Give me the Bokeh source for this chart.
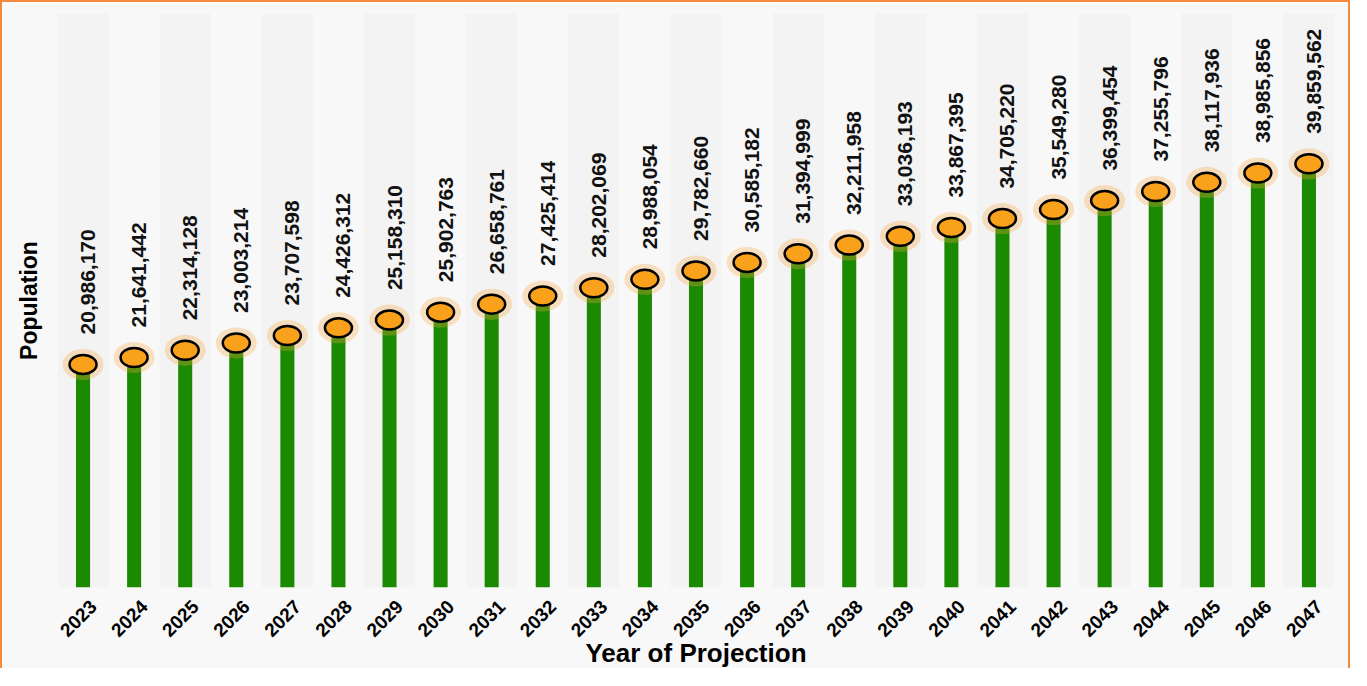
import math
from bokeh.plotting import figure
from bokeh.models import Range1d, LinearAxis, FixedTicker
from bokeh.core.properties import value
from bokeh.embed import file_html
from bokeh.resources import INLINE

years = [2023, 2024, 2025, 2026, 2027, 2028, 2029, 2030, 2031, 2032, 2033, 2034,
         2035, 2036, 2037, 2038, 2039, 2040, 2041, 2042, 2043, 2044, 2045, 2046, 2047]
population = [20986170, 21641442, 22314128, 23003214, 23707598, 24426312, 25158310,
              25902763, 26658761, 27425414, 28202069, 28988054, 29782660, 30585182,
              31394999, 32211958, 33036193, 33867395, 34705220, 35549280, 36399454,
              37255796, 38117936, 38985856, 39859562]
value_labels = [f"{v:,}" for v in population]
tick_labels = {y: str(y) for y in years}

FONT = "Liberation Sans"
BG = "#f8f8f8"

p = figure(width=1350, height=668, output_backend="svg", toolbar_location=None,
           x_range=Range1d(years[0] - 0.5, years[-1] + 0.5),
           y_range=Range1d(0, 54000000),
           x_axis_location=None, min_border_left=55, min_border_right=18,
           min_border_top=11, min_border_bottom=83)
p.styles = {"border-top": "2px solid #f4883c", "border-left": "2px solid #f4883c",
            "border-right": "2px solid #f4883c"}
p.background_fill_color = BG
p.border_fill_color = BG
p.outline_line_color = None
p.xgrid.visible = False
p.ygrid.visible = False

# alternating bands
band_years = years[::2]
p.vbar(x=band_years, width=1, top=54000000, bottom=0, fill_color="#f3f3f3", line_color=None)

# stems
p.vbar(x=years, width=0.275, top=population, bottom=0, fill_color="#1b8a00", line_color=None)

# halos and markers
p.ellipse(x=years, y=population, width=41, height=31, width_units="screen", height_units="screen",
          fill_color="#f7a440", fill_alpha=0.3, line_color=None)
p.ellipse(x=years, y=population, width=27, height=19, width_units="screen", height_units="screen",
          fill_color="#f9a11b", line_color="#000000", line_width=2.5)

# value labels
p.text(x=years, y=population, text=value_labels, angle=math.pi / 2,
       text_align="left", text_baseline="middle", x_offset=5, y_offset=-30,
       text_font=value(FONT), text_font_style="bold", text_font_size="21px", text_color="#111111")

# y axis
p.yaxis.ticker = FixedTicker(ticks=[])
p.yaxis.axis_line_color = None
p.yaxis.major_tick_line_color = None
p.yaxis.minor_tick_line_color = None
p.yaxis.major_tick_out = 0
p.yaxis.major_label_standoff = 0
p.yaxis.axis_label = "Population"
p.yaxis.axis_label_text_font = FONT
p.yaxis.axis_label_text_font_style = "bold"
p.yaxis.axis_label_text_font_size = "23px"
p.yaxis.axis_label_text_color = "#000000"
p.yaxis.axis_label_standoff = 16

# x axis (tick labels offset slightly right as in reference)
p.extra_x_ranges = {"lab": Range1d(years[0] - 0.7, years[-1] + 0.3)}
xa = LinearAxis(x_range_name="lab", ticker=FixedTicker(ticks=years),
                major_label_overrides=tick_labels)
xa.major_label_orientation = math.pi / 4
xa.axis_line_color = None
xa.major_tick_line_color = None
xa.minor_tick_line_color = None
xa.major_tick_out = 0
xa.major_tick_in = 0
xa.major_label_standoff = 16
xa.major_label_text_font = FONT
xa.major_label_text_font_style = "bold"
xa.major_label_text_font_size = "19px"
xa.major_label_text_color = "#000000"
xa.axis_label = "Year of Projection"
xa.axis_label_text_font = FONT
xa.axis_label_text_font_style = "bold"
xa.axis_label_text_font_size = "26px"
xa.axis_label_text_color = "#000000"
xa.axis_label_standoff = -8
p.add_layout(xa, "below")

open("out.html", "w").write(file_html(p, INLINE))
